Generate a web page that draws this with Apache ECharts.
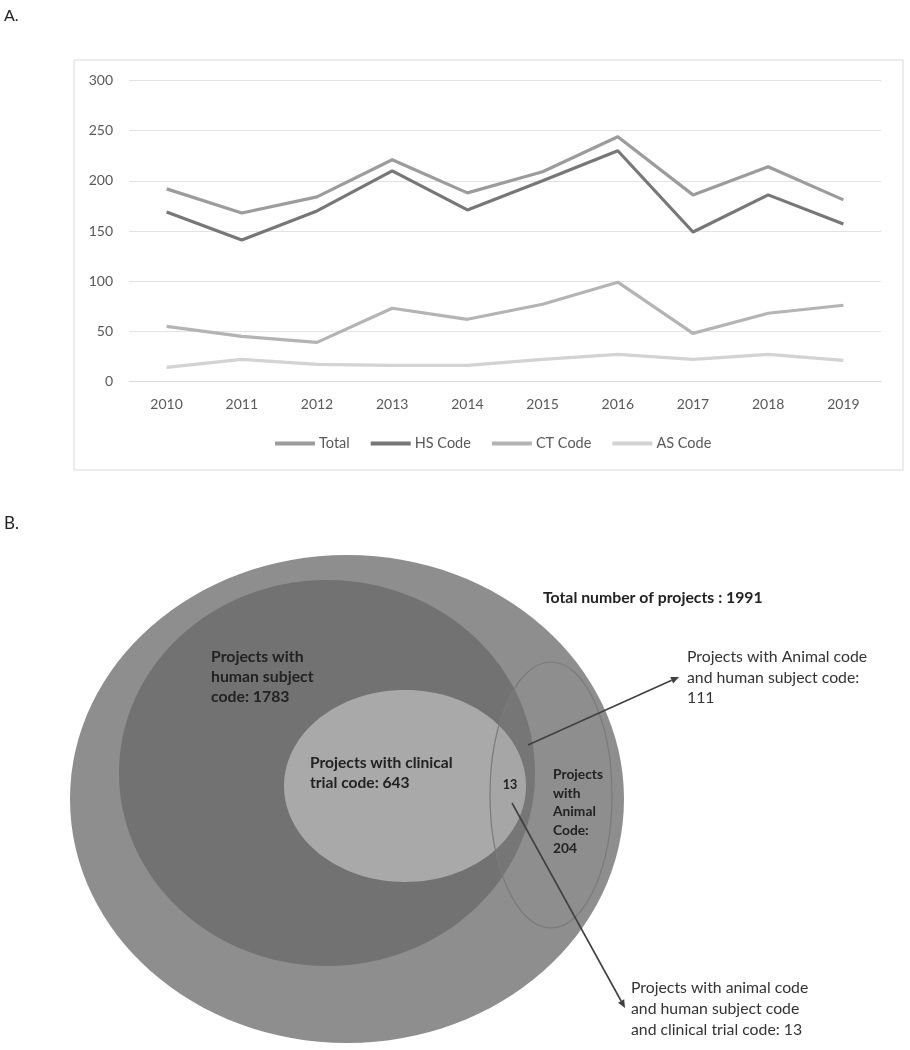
<!DOCTYPE html>
<html>
<head>
<meta charset="utf-8">
<script src="https://cdn.jsdelivr.net/npm/echarts@6/dist/echarts.min.js"></script>
<style>
html,body{margin:0;padding:0;background:#fff;}
#chart{width:910px;height:1050px;}
</style>
</head>
<body>
<div id="chart"></div>
<script>
// ---- data ----
const years = ['2010','2011','2012','2013','2014','2015','2016','2017','2018','2019'];
const totalCode = [192, 168, 184, 221, 188, 209, 244, 186, 214, 181];
const hsCode    = [169, 141, 170, 210, 171, 200, 230, 149, 186, 157];
const ctCode    = [55, 45, 39, 73, 62, 77, 99, 48, 68, 76];
const asCode    = [14, 22, 17, 16, 16, 22, 27, 22, 27, 21];
const seriesNames = ['Total', 'HS Code', 'CT Code', 'AS Code'];
const yTicks = [0, 50, 100, 150, 200, 250, 300];

const vennTotal = 1991;
const vennHS = 1783;
const vennCT = 643;
const vennAS = 204;
const vennAS_HS = 111;
const vennAll = 13;

// ---- style ----
const lineColors = ['#9c9c9c', '#777777', '#b4b4b4', '#d3d3d3'];
const FONT = 'Lato, "Open Sans", sans-serif';

const chart = echarts.init(document.getElementById('chart'), null, {renderer: 'canvas'});

function arrow(x1, y1, x2, y2) {
  const ang = Math.atan2(y2 - y1, x2 - x1);
  const L = 8, W = 3.5;
  const bx = x2 - L * Math.cos(ang), by = y2 - L * Math.sin(ang);
  const px = -Math.sin(ang) * W, py = Math.cos(ang) * W;
  return [
    {type: 'line', shape: {x1: x1, y1: y1, x2: bx, y2: by}, style: {stroke: '#404040', lineWidth: 1.6}, z: 10},
    {type: 'polygon', shape: {points: [[x2, y2], [bx + px, by + py], [bx - px, by - py]]}, style: {fill: '#404040'}, z: 10}
  ];
}

function txt(x, y, lines, opts) {
  return lines.map((s, i) => ({
    type: 'text', x: x, y: y + i * (opts.lh || 20), z: 12,
    style: {
      text: s, fill: opts.color || '#222',
      font: (opts.bold ? 'bold ' : '') + (opts.size || 13) + 'px ' + FONT,
      textAlign: opts.align || 'left', textVerticalAlign: 'middle'
    }
  }));
}

const graphics = [
  // panel labels
  {type: 'text', x: 4, y: 16, style: {text: 'A.', font: '16px ' + FONT, fill: '#222', textVerticalAlign: 'middle'}},
  {type: 'text', x: 4, y: 524, style: {text: 'B.', font: '17px ' + FONT, fill: '#222', textVerticalAlign: 'middle'}},
  // chart frame
  {type: 'rect', shape: {x: 74, y: 60, width: 829, height: 410}, style: {fill: 'none', stroke: '#d9d9d9', lineWidth: 1}, z: 0},
  // Venn ellipses
  {type: 'ellipse', shape: {cx: 347, cy: 799, rx: 277, ry: 244}, style: {fill: '#8e8e8e'}, z: 1},
  {type: 'ellipse', shape: {cx: 327, cy: 773, rx: 208, ry: 193}, style: {fill: '#727272'}, z: 2},
  {type: 'ellipse', shape: {cx: 405, cy: 786, rx: 121, ry: 96}, style: {fill: '#a9a9a9'}, z: 3},
  {type: 'ellipse', shape: {cx: 551, cy: 795, rx: 61, ry: 133}, style: {fill: 'rgba(150,150,150,0.12)', stroke: '#7a7a7a', lineWidth: 1.2}, z: 4},
];

graphics.push(...txt(543, 598, ['Total number of projects : ' + vennTotal], {bold: true, size: 15.8}));
graphics.push(...txt(211, 657, ['Projects with', 'human subject', 'code: ' + vennHS], {bold: true, size: 15.8, lh: 20}));
graphics.push(...txt(310, 763, ['Projects with clinical', 'trial code: ' + vennCT], {bold: true, size: 15.6, lh: 20}));
graphics.push(...txt(510, 785, [String(vennAll)], {bold: true, size: 12.5, align: 'center'}));
graphics.push(...txt(553, 775, ['Projects', 'with', 'Animal', 'Code:', String(vennAS)], {bold: true, size: 13.8, lh: 18.5}));
graphics.push(...txt(687, 657, ['Projects with Animal code', 'and human subject code:', String(vennAS_HS)], {size: 15.8, lh: 20.5, color: '#333'}));
graphics.push(...txt(631, 988, ['Projects with animal code', 'and human subject code', 'and clinical trial code: ' + vennAll], {size: 15.8, lh: 21, color: '#333'}));
graphics.push(...arrow(528, 745, 679, 677));
graphics.push(...arrow(512, 803, 625, 1008));

const dataSets = [totalCode, hsCode, ctCode, asCode];

chart.setOption({
  animation: false,
  backgroundColor: '#fff',
  textStyle: {fontFamily: FONT},
  grid: {left: 129, right: 29, top: 80.5, bottom: 668.5, containLabel: false},
  legend: {
    data: seriesNames,
    left: 270, top: 431,
    icon: 'rect', itemWidth: 40, itemHeight: 4, itemGap: 21,
    textStyle: {color: '#595959', fontSize: 14.5, fontFamily: FONT, padding: [0, 0, 0, -1]}
  },
  xAxis: {
    type: 'category', data: years, boundaryGap: true,
    axisLine: {lineStyle: {color: '#d9d9d9', width: 1}},
    axisTick: {show: false},
    axisLabel: {color: '#595959', fontSize: 14, margin: 16, fontFamily: FONT}
  },
  yAxis: {
    type: 'value', min: yTicks[0], max: yTicks[yTicks.length - 1], interval: 50,
    axisLine: {show: false}, axisTick: {show: false},
    splitLine: {lineStyle: {color: '#e3e3e3', width: 1}},
    axisLabel: {color: '#595959', fontSize: 14, margin: 16, fontFamily: FONT}
  },
  series: seriesNames.map((n, i) => ({
    name: n, type: 'line', data: dataSets[i],
    symbol: 'none', smooth: false,
    lineStyle: {color: lineColors[i], width: 3.2},
    itemStyle: {color: lineColors[i]},
    z: 5 - i
  })),
  graphic: graphics
});
</script>
</body>
</html>
